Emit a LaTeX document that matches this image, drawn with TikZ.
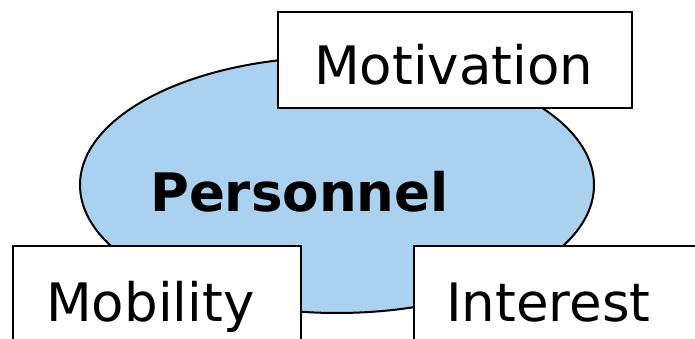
\documentclass[tikz,border=0pt]{standalone}
\usepackage{fontspec}
\setmainfont{DejaVu Sans}
\definecolor{ellblue}{RGB}{171,209,240}
\begin{document}
\begin{tikzpicture}[x=1pt,y=1pt,
  boxline/.style={draw=black,line width=2pt,fill=white},
  lbl/.style={anchor=base west,inner sep=0pt,font=\fontsize{53}{60}\selectfont}]
\useasboundingbox (0,0) rectangle (695,339);
\clip (0,0) rectangle (695,339);
\fill[white] (0,0) rectangle (695,339);
\draw[fill=ellblue,line width=2pt] (337,154) ellipse [x radius=257, y radius=128];
\node[lbl,font=\fontsize{53}{60}\selectfont\bfseries] (pers) at (150,127) {Personnel};
\draw[boxline] (278,231) rectangle (632,327);
\node[lbl] (motiv) at (314,254) {Motivation};
\draw[boxline] (13,93) rectangle (301,-20);
\node[lbl] (mob) at (46,17) {Mobility};
\draw[boxline] (414,93) rectangle (720,-20);
\node[lbl] (inter) at (446,17) {Interest};
\end{tikzpicture}
\end{document}
